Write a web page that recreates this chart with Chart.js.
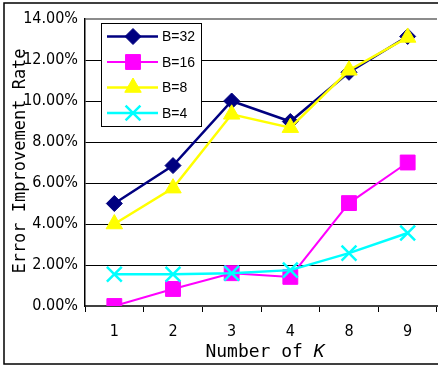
<!DOCTYPE html>
<html>
<head>
<meta charset="utf-8">
<script src="https://cdn.jsdelivr.net/npm/chart.js@4/dist/chart.umd.min.js"></script>
<style>
  html, body { margin: 0; padding: 0; background: #fff; overflow: hidden; width: 438px; height: 367px; }
  canvas { display: block; }
</style>
</head>
<body>
<canvas id="c" width="450" height="367"></canvas>
<script>
// Categories on the x axis (number of K)
const categories = ['1', '2', '3', '4', '8', '9'];
// Error improvement rate (%) per batch size
const seriesNames = ['B=32', 'B=16', 'B=8', 'B=4'];
const b32 = [5.0, 6.85, 10.0, 9.0, 11.4, 13.15];
const b16 = [0.0, 0.83, 1.6, 1.42, 5.02, 7.0];
const b8  = [4.0, 5.75, 9.35, 8.7, 11.5, 13.1];
const b4  = [1.55, 1.55, 1.6, 1.75, 2.58, 3.56];
// Y axis range and step
const yMin = 0, yMax = 14, yStep = 2;

const yTitle = 'Error Improvement Rate';
const xTitle = 'Number of ';
const xTitleVar = 'K';

const tickFont = { family: '"Liberation Sans Narrow", "DejaVu Sans Condensed", "Liberation Sans", sans-serif', size: 16 };

function series(label, data, color, style, radius, lineWidth, order) {
  return {
    label, data, order,
    borderColor: color,
    backgroundColor: color,
    borderWidth: lineWidth,
    pointStyle: style,
    pointRadius: radius,
    pointHoverRadius: radius,
    pointBorderWidth: style === 'crossRot' ? 2.5 : 1,
    pointBackgroundColor: color,
    pointBorderColor: color,
    tension: 0,
    fill: false
  };
}

const datasets = [
  series(seriesNames[0], b32, '#000080', 'rectRot', 8, 2.5, 3),
  series(seriesNames[1], b16, '#FF00FF', 'rect', 10.5, 2, 2),
  series(seriesNames[2], b8,  '#FFFF00', 'triangle', 9.5, 2.5, 1),
  series(seriesNames[3], b4,  '#00FFFF', 'crossRot', 10.5, 2.5, 0)
];

// Frame, axis titles and boxed legend drawn over the chart
const decorations = {
  id: 'decorations',
  afterDraw(chart) {
    const ctx = chart.ctx;
    ctx.save();

    // outer frame
    ctx.strokeStyle = '#000';
    ctx.lineWidth = 1.5;
    ctx.strokeRect(4, 3, chart.width, 361);

    // y axis title
    ctx.fillStyle = '#000';
    ctx.font = '17px "DejaVu Sans Mono", monospace';
    ctx.textAlign = 'center';
    ctx.textBaseline = 'middle';
    ctx.translate(21, 161);
    ctx.rotate(-Math.PI / 2);
    ctx.fillText(yTitle, 0, 0);
    ctx.setTransform(1, 0, 0, 1, 0, 0);

    // x axis title with italic variable
    const cx = 265;
    ctx.font = '18px "DejaVu Sans Mono", monospace';
    const w1 = ctx.measureText(xTitle).width;
    ctx.font = 'italic 18px "DejaVu Sans Mono", monospace';
    const w2 = ctx.measureText(xTitleVar).width;
    const x0 = cx - (w1 + w2) / 2;
    ctx.textAlign = 'left';
    ctx.textBaseline = 'middle';
    ctx.font = '18px "DejaVu Sans Mono", monospace';
    ctx.fillText(xTitle, x0, 352);
    ctx.font = 'italic 18px "DejaVu Sans Mono", monospace';
    ctx.fillText(xTitleVar, x0 + w1, 352);

    // legend box
    const lx = 101, ly = 23, lw = 100, lh = 103;
    ctx.fillStyle = '#fff';
    ctx.fillRect(lx, ly, lw, lh);
    ctx.strokeStyle = '#000';
    ctx.lineWidth = 1;
    ctx.strokeRect(lx + 0.5, ly + 0.5, lw, lh);

    ctx.font = '14px "Liberation Sans", Arial, sans-serif';
    ctx.textBaseline = 'middle';
    ctx.textAlign = 'left';
    chart.data.datasets.forEach((ds, i) => {
      const y = 36.5 + i * 25.5;
      ctx.strokeStyle = ds.borderColor;
      ctx.lineWidth = ds.borderWidth;
      ctx.beginPath();
      ctx.moveTo(107, y);
      ctx.lineTo(158, y);
      ctx.stroke();
      ctx.fillStyle = ds.pointBackgroundColor;
      ctx.strokeStyle = ds.pointBorderColor;
      ctx.lineWidth = ds.pointBorderWidth;
      Chart.helpers.drawPoint(ctx, {
        pointStyle: ds.pointStyle,
        radius: ds.pointRadius,
        borderWidth: ds.pointBorderWidth,
        rotation: 0
      }, 133, y);
      ctx.fillStyle = '#000';
      ctx.fillText(ds.label, 162, y + 1);
    });

    ctx.restore();
  }
};

new Chart(document.getElementById('c'), {
  type: 'line',
  data: { labels: categories, datasets },
  plugins: [decorations],
  options: {
    responsive: false,
    animation: false,
    events: [],
    layout: { padding: { left: 0, top: 19, right: 5, bottom: 0 } },
    plugins: { legend: { display: false }, tooltip: { enabled: false } },
    scales: {
      x: {
        offset: true,
        afterFit(scale) { scale.height = 61; },
        grid: {
          offset: true,
          drawOnChartArea: false,
          drawTicks: true,
          tickLength: 6,
          color: '#000',
          lineWidth: 1
        },
        border: { display: true, color: '#404040', width: 2 },
        ticks: { color: '#000', font: tickFont, padding: 10, maxRotation: 0 }
      },
      y: {
        min: yMin,
        max: yMax,
        afterFit(scale) { scale.width = 85; },
        grid: {
          drawTicks: false,
          color: c => (c.tick && c.tick.value === yMax) ? '#8c8c8c' : '#000',
          lineWidth: c => (c.tick && c.tick.value === yMax) ? 2 : 1
        },
        border: { display: true, color: '#000', width: 1.5 },
        ticks: {
          stepSize: yStep,
          color: '#000',
          font: tickFont,
          padding: 7,
          callback: v => v.toFixed(2) + '%'
        }
      }
    }
  }
});
</script>
</body>
</html>
